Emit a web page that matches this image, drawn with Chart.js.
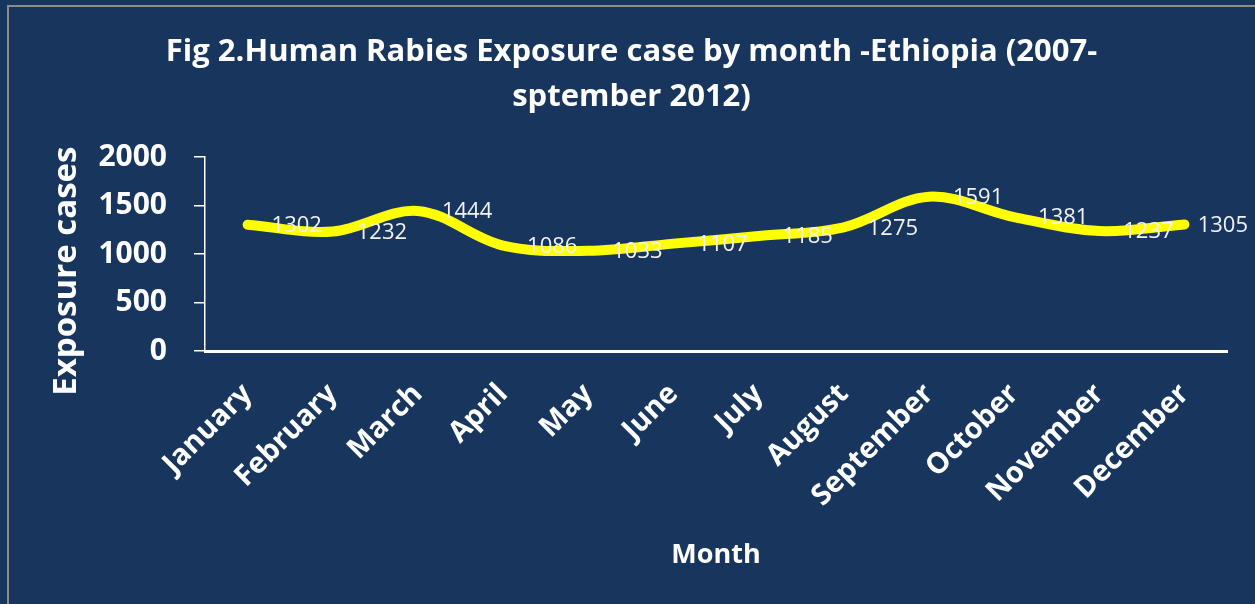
<!DOCTYPE html>
<html>
<head>
<meta charset="utf-8">
<script src="https://cdn.jsdelivr.net/npm/chart.js@4"></script>
<style>
  html, body { margin: 0; padding: 0; background: #18365d; overflow: hidden; }
  #frame { position: absolute; left: 7px; top: 5px; width: 1300px; height: 700px;
           border-top: 2px solid #8c8c8c; border-left: 2px solid #8c8c8c; }
  #wrap { position: absolute; left: 0; top: 0; width: 1255px; height: 604px; }
</style>
</head>
<body>
<div id="frame"></div>
<div id="wrap"><canvas id="chart" width="1255" height="604"></canvas></div>
<script>
// ======================
// DATA
// ======================
const months = ["January", "February", "March", "April", "May", "June",
  "July", "August", "September", "October", "November", "December"];
const cases = [1302, 1232, 1444, 1086, 1033, 1107, 1185, 1275, 1591, 1381, 1237, 1305];
const yTicks = [0, 500, 1000, 1500, 2000];

const white = "#ffffff";
const font = "'Open Sans', 'Noto Sans', sans-serif";

// ======================
// VALUE LABELS (right of each point)
// ======================
const valueLabels = {
  id: "valueLabels",
  afterDatasetsDraw(chart) {
    const ctx = chart.ctx;
    const meta = chart.getDatasetMeta(0);
    ctx.save();
    ctx.font = "22px " + font;
    ctx.fillStyle = "#f2f2f2";
    ctx.textAlign = "left";
    ctx.textBaseline = "middle";
    meta.data.forEach((pt, i) => {
      let txt = String(cases[i]);
      let w = ctx.measureText(txt).width;
      let x = Math.min(pt.x + 24, chart.width - w - 7);
      ctx.fillText(txt, x, pt.y + 1);
    });
    ctx.restore();
  }
};

new Chart(document.getElementById("chart"), {
  type: "line",
  data: {
    labels: months,
    datasets: [{
      data: cases,
      borderColor: "#ffff00",
      borderWidth: 10,
      borderCapStyle: "round",
      borderJoinStyle: "round",
      tension: 0.35,
      pointRadius: 0,
      fill: false
    }]
  },
  options: {
    responsive: false,
    animation: false,
    events: [],
    layout: { padding: { left: 36, right: 28, top: 0, bottom: 0 } },
    plugins: {
      legend: { display: false },
      tooltip: { enabled: false },
      title: {
        display: true,
        text: ["Fig 2.Human Rabies Exposure case by month -Ethiopia (2007-", "sptember 2012)"],
        color: white,
        font: { family: font, size: 31, weight: "bold", lineHeight: 45 / 31 },
        padding: { top: 30, bottom: 37 }
      }
    },
    scales: {
      x: {
        offset: true,
        afterFit: s => { s.height = 253; },
        grid: { display: false, drawTicks: false },
        border: { display: true, color: white, width: 3 },
        ticks: {
          color: white,
          font: { family: font, size: 29, weight: "bold" },
          maxRotation: 45,
          minRotation: 45,
          padding: 26,
          autoSkip: false
        },
        title: {
          display: true,
          text: "Month",
          color: white,
          font: { family: font, size: 27, weight: "bold" },
          padding: { top: 0, bottom: 32 }
        }
      },
      y: {
        min: 0,
        max: 2000,
        afterFit: s => { s.width = 169; },
        afterBuildTicks: s => { s.ticks = yTicks.map(v => ({ value: v })); },
        grid: { display: true, drawOnChartArea: false, drawTicks: true, tickLength: 11, color: white, lineWidth: 1.5 },
        border: { display: true, color: white, width: 1.5 },
        ticks: {
          color: white,
          font: { family: font, size: 30, weight: "bold" },
          padding: 27,
          callback: v => String(v)
        },
        title: {
          display: true,
          text: "Exposure cases    ",
          color: white,
          font: { family: font, size: 33, weight: "bold" },
          padding: { top: 11, bottom: 0 }
        }
      }
    }
  },
  plugins: [valueLabels]
});
</script>
</body>
</html>
